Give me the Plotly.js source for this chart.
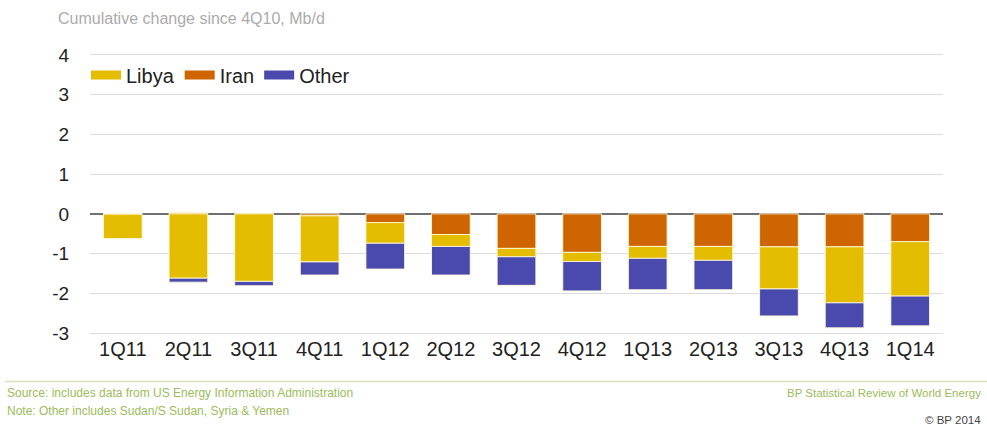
<!DOCTYPE html>
<html>
<head>
<meta charset="utf-8">
<script src="https://cdn.plot.ly/plotly-3.0.1.min.js"></script>
<style>html,body{margin:0;padding:0;background:#fff;}#chart{width:987px;height:426px;}</style>
</head>
<body>
<div id="chart"></div>
<script>
// ---- data (Mb/d, cumulative change since 4Q10) ----
const quarters = ['1Q11','2Q11','3Q11','4Q11','1Q12','2Q12','3Q12','4Q12','1Q13','2Q13','3Q13','4Q13','1Q14'];
const iran  = [0, 0.03, 0, -0.05, -0.22, -0.52, -0.87, -0.97, -0.82, -0.82, -0.83, -0.83, -0.70];
const libya = [-0.62, -1.62, -1.70, -1.16, -0.52, -0.30, -0.21, -0.23, -0.30, -0.35, -1.06, -1.41, -1.37];
const other = [0, -0.10, -0.11, -0.33, -0.65, -0.72, -0.72, -0.74, -0.79, -0.74, -0.68, -0.63, -0.75];
const yTicks = [-3, -2, -1, 0, 1, 2, 3, 4];

const colors = {Libya: '#E4BC00', Iran: '#CF6500', Other: '#4A4AAE'};

// layout geometry (pixels)
const W = 987, H = 426;
const mL = 90, mR = 44, mT = 53, mB = 91;
const pw = W - mL - mR, ph = H - mT - mB;
const px = x => (x - mL) / pw;
const py = y => (H - mB - y) / ph;

const edge = {color: 'rgba(255,248,215,0.9)', width: 1};
function barTrace(name, vals) {
  return {type: 'bar', name: name, x: quarters, y: vals, showlegend: false,
          marker: {color: colors[name], line: edge}, hoverinfo: 'x+y+name'};
}
function legendTrace(name) {
  return {type: 'scatter', mode: 'lines', name: name, x: [null], y: [null],
          line: {color: colors[name], width: 9}, showlegend: true};
}

const data = [
  barTrace('Iran', iran),
  barTrace('Libya', libya),
  barTrace('Other', other),
  legendTrace('Libya'),
  legendTrace('Iran'),
  legendTrace('Other')
];

const footGreen = '#9CBB5A';
const layout = {
  width: W, height: H,
  margin: {l: mL, r: mR, t: mT, b: mB},
  paper_bgcolor: '#fff', plot_bgcolor: '#fff',
  font: {family: '"Liberation Sans", Arial, sans-serif', color: '#222'},
  barmode: 'relative',
  bargap: 0.41,
  title: {text: 'Cumulative change since 4Q10, Mb/d', x: 58 / W, xref: 'container', xanchor: 'left',
          y: 1 - 18 / H, yref: 'container', yanchor: 'middle',
          font: {size: 16, color: '#ABABAB'}},
  xaxis: {type: 'category', showgrid: false, zeroline: false, showline: false,
          ticks: '', tickfont: {size: 20, color: '#222'}},
  yaxis: {range: [-3.05, 4.05], tickvals: yTicks, ticktext: yTicks.map(String),
          showgrid: true, gridcolor: '#DCDCDC', gridwidth: 1,
          zeroline: true, zerolinecolor: '#707070', zerolinewidth: 1.5,
          showline: false, ticks: 'outside', ticklen: 16, tickcolor: 'rgba(0,0,0,0)',
          tickfont: {size: 19, color: '#222'}},
  legend: {orientation: 'h', x: px(86), xanchor: 'left', y: py(75), yanchor: 'middle',
           font: {size: 20, color: '#222'}, bgcolor: 'rgba(0,0,0,0)', itemwidth: 30,
           tracegroupgap: 0},
  shapes: [
    {type: 'line', xref: 'paper', yref: 'paper', x0: px(5), x1: px(987), y0: py(381.5), y1: py(381.5),
     line: {color: '#D6E3B8', width: 1.5}}
  ],
  annotations: [
    {text: 'Source: includes data from US Energy Information Administration', xref: 'paper', yref: 'paper',
     x: px(5), y: py(393), xanchor: 'left', yanchor: 'middle', showarrow: false,
     font: {size: 12, color: footGreen}},
    {text: 'Note: Other includes Sudan/S Sudan, Syria &amp; Yemen', xref: 'paper', yref: 'paper',
     x: px(5), y: py(411), xanchor: 'left', yanchor: 'middle', showarrow: false,
     font: {size: 12, color: footGreen}},
    {text: 'BP Statistical Review of World Energy', xref: 'paper', yref: 'paper',
     x: px(983), y: py(393), xanchor: 'right', yanchor: 'middle', showarrow: false,
     font: {size: 11.5, color: footGreen}},
    {text: '© BP 2014', xref: 'paper', yref: 'paper',
     x: px(983), y: py(420), xanchor: 'right', yanchor: 'middle', showarrow: false,
     font: {size: 11.5, color: '#444'}}
  ]
};

Plotly.newPlot('chart', data, layout, {displayModeBar: false, staticPlot: true});
</script>
</body>
</html>
